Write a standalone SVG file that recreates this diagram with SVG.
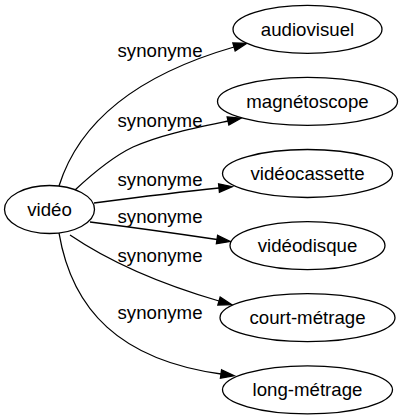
<svg xmlns="http://www.w3.org/2000/svg" width="402" height="419" viewBox="0 0 402 419">
<style>
  .node ellipse { fill: #ffffff; stroke: #000000; stroke-width: 1.3; }
  .node text { font-family: "Liberation Sans", Arial, sans-serif; font-size: 18.67px; fill: #000000; text-anchor: middle; }
  .edge path { fill: none; stroke: #000000; stroke-width: 1.3; marker-end: url(#arrow); }
  .edge text { font-family: "Liberation Sans", Arial, sans-serif; font-size: 18.67px; fill: #000000; text-anchor: middle; }
</style>
<defs>
  <marker id="arrow" markerUnits="userSpaceOnUse" viewBox="0 -5 14 10" markerWidth="14" markerHeight="10" refX="0" refY="0" orient="auto" overflow="visible">
    <path d="M0,-4.2 L13.3,0 L0,4.2 Z" fill="#000000" stroke="#000000" stroke-width="1.3"/>
  </marker>
</defs>
<rect x="0" y="0" width="402" height="419" fill="#ffffff"/>
<g id="connectors">
  <g class="edge" id="e-audiovisuel">
    <path d="M59,186 C75,135 120,80 234,47"/>
    <text x="160" y="57">synonyme</text>
  </g>
  <g class="edge" id="e-magnetoscope">
    <path d="M75,190 C90,176 110,158 133,147 C160,135 190,129 228,121"/>
    <text x="160" y="127">synonyme</text>
  </g>
  <g class="edge" id="e-videocassette">
    <path d="M94,203 C140,197 180,192 219,188"/>
    <text x="160" y="186">synonyme</text>
  </g>
  <g class="edge" id="e-videodisque">
    <path d="M90,222 C130,227 180,234 217,239.5"/>
    <text x="160" y="223">synonyme</text>
  </g>
  <g class="edge" id="e-court-metrage">
    <path d="M70,235 C95,252 140,278 219,301"/>
    <text x="160" y="262">synonyme</text>
  </g>
  <g class="edge" id="e-long-metrage">
    <path d="M59,233 C72,310 120,360 221,374"/>
    <text x="160" y="319">synonyme</text>
  </g>
</g>
<g class="node" id="n-video">
  <ellipse cx="49.5" cy="209.5" rx="45" ry="24"/>
  <text x="49.5" y="216">vidéo</text>
</g>
<g class="node" id="n-audiovisuel">
  <ellipse cx="307.5" cy="29.3" rx="74.5" ry="24"/>
  <text x="307.5" y="35.5">audiovisuel</text>
</g>
<g class="node" id="n-magnetoscope">
  <ellipse cx="307.5" cy="101.4" rx="90" ry="24"/>
  <text x="307.5" y="107.6">magnétoscope</text>
</g>
<g class="node" id="n-videocassette">
  <ellipse cx="307.5" cy="173.5" rx="85" ry="24"/>
  <text x="307.5" y="179.7">vidéocassette</text>
</g>
<g class="node" id="n-videodisque">
  <ellipse cx="307.5" cy="245.6" rx="77.5" ry="24"/>
  <text x="307.5" y="251.8">vidéodisque</text>
</g>
<g class="node" id="n-court-metrage">
  <ellipse cx="307.5" cy="317.7" rx="87.5" ry="24"/>
  <text x="307.5" y="323.9">court-métrage</text>
</g>
<g class="node" id="n-long-metrage">
  <ellipse cx="307.5" cy="389.8" rx="85" ry="24"/>
  <text x="307.5" y="396">long-métrage</text>
</g>
</svg>
